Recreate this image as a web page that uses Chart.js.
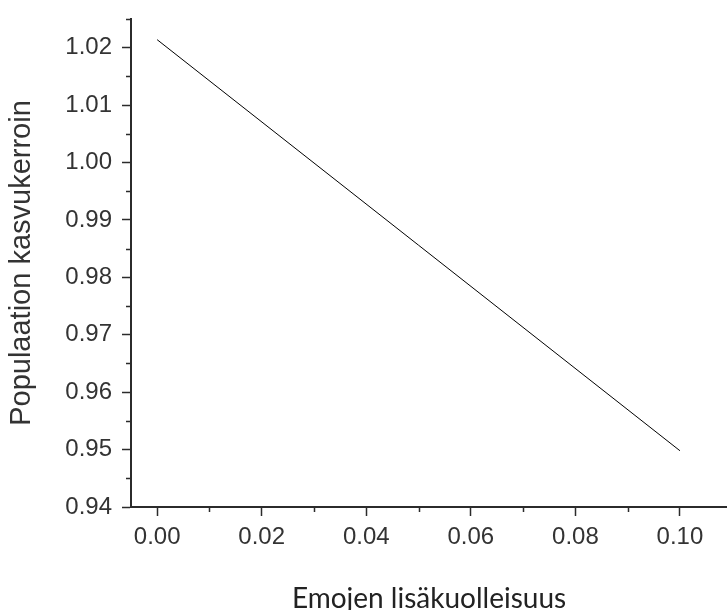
<!DOCTYPE html>
<html>
<head>
<meta charset="utf-8">
<script src="https://cdn.jsdelivr.net/npm/chart.js@4.4.1/dist/chart.umd.min.js"></script>
<style>
  html, body { margin: 0; padding: 0; background: #fff; overflow: hidden; }
  #wrap { width: 727px; height: 610px; }
</style>
</head>
<body>
<div id="wrap"><canvas id="chart" width="727" height="610"></canvas></div>
<script>
// data
var mortality = [0.00, 0.10];
var growth = [1.0214, 0.9498];

var xTicks = [0.00, 0.02, 0.04, 0.06, 0.08, 0.10];
var xMinor = [0.01, 0.03, 0.05, 0.07, 0.09];
var yTicks = [0.94, 0.95, 0.96, 0.97, 0.98, 0.99, 1.00, 1.01, 1.02];
var yMinor = [0.945, 0.955, 0.965, 0.975, 0.985, 0.995, 1.005, 1.015, 1.025];

var axisColor = '#2b2b2b';
var textColor = '#333333';

var points = mortality.map(function (x, i) {
    return { x: x, y: growth[i] };
});

// small plugin for the minor ticks (chart.js has none)
var minorTicks = {
    id: 'minorTicks',
    afterDraw: function (chart) {
        var ctx = chart.ctx;
        var xs = chart.scales.x;
        var ys = chart.scales.y;
        ctx.save();
        ctx.strokeStyle = axisColor;
        ctx.lineWidth = 1.5;
        ctx.beginPath();
        xMinor.forEach(function (v) {
            var px = Math.round(xs.getPixelForValue(v)) + 0.5;
            ctx.moveTo(px, xs.top);
            ctx.lineTo(px, xs.top + 5);
        });
        yMinor.forEach(function (v) {
            var py = Math.round(ys.getPixelForValue(v)) + 0.5;
            ctx.moveTo(ys.right, py);
            ctx.lineTo(ys.right - 5, py);
        });
        ctx.stroke();
        ctx.restore();
    }
};

new Chart(document.getElementById('chart'), {
    type: 'scatter',
    data: {
        datasets: [{
            data: points,
            showLine: true,
            borderColor: '#000',
            borderWidth: 1,
            pointRadius: 0,
            fill: false
        }]
    },
    options: {
        responsive: false,
        animation: false,
        events: [],
        layout: { padding: 0 },
        plugins: {
            legend: { display: false },
            tooltip: { enabled: false }
        },
        scales: {
            x: {
                type: 'linear',
                min: -0.005,
                max: 0.109,
                afterFit: function (s) { s.height = 103; },
                afterBuildTicks: function (s) {
                    s.ticks = xTicks.map(function (v) { return { value: v }; });
                },
                border: { color: axisColor, width: 2 },
                grid: {
                    drawOnChartArea: false,
                    tickLength: 9,
                    tickColor: axisColor,
                    tickWidth: 1.5
                },
                ticks: {
                    padding: 7,
                    color: textColor,
                    maxRotation: 0,
                    font: { family: 'Liberation Sans, Arial', size: 24 },
                    callback: function (v) { return Number(v).toFixed(2); }
                },
                title: {
                    display: true,
                    text: 'Emojen lisäkuolleisuus',
                    color: '#222',
                    font: { family: 'Lato', size: 28 },
                    padding: { top: 0, bottom: -6 }
                }
            },
            y: {
                type: 'linear',
                min: 0.94,
                max: 1.025,
                afterFit: function (s) {
                    s.width = 131;
                    s.paddingTop = 19;
                    s.paddingBottom = 0;
                },
                afterBuildTicks: function (s) {
                    s.ticks = yTicks.map(function (v) { return { value: v }; });
                },
                border: { color: axisColor, width: 2 },
                grid: {
                    drawOnChartArea: false,
                    tickLength: 9,
                    tickColor: axisColor,
                    tickWidth: 1.5
                },
                ticks: {
                    padding: 10,
                    color: textColor,
                    font: { family: 'Liberation Sans, Arial', size: 24 },
                    callback: function (v) { return Number(v).toFixed(2); }
                },
                title: {
                    display: true,
                    text: 'Populaation kasvukerroin',
                    color: textColor,
                    font: { family: 'Liberation Sans, Arial', size: 29 },
                    padding: { top: 5, bottom: 0 }
                }
            }
        }
    },
    plugins: [minorTicks]
});
</script>
</body>
</html>
